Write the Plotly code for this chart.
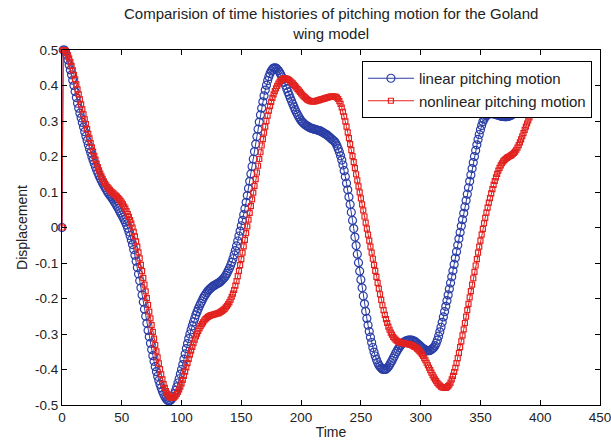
import plotly.graph_objects as go

# Sample times of the simulation (one sample per time unit)
time = list(range(0, 401))

# Pitching displacement, linear model
linear_pitch = [
    0, 0.5, 0.5, 0.495, 0.485, 0.472, 0.458, 0.444, 0.43, 0.415,
    0.40, 0.383, 0.366, 0.35, 0.336, 0.322, 0.309, 0.296, 0.283, 0.27,
    0.257, 0.245, 0.233, 0.222, 0.211, 0.2, 0.19, 0.18, 0.171, 0.162,
    0.154, 0.146, 0.139, 0.132, 0.125, 0.119, 0.113, 0.107, 0.101, 0.096,
    0.091, 0.087, 0.082, 0.077, 0.071, 0.066, 0.06, 0.054, 0.047, 0.041,
    0.035, 0.029, 0.022, 0.015, 0.007, -0.002, -0.012, -0.023, -0.035, -0.048,
    -0.062, -0.078, -0.095, -0.113, -0.131, -0.15, -0.17, -0.19, -0.21, -0.23,
    -0.25, -0.27, -0.29, -0.308, -0.326, -0.344, -0.361, -0.377, -0.392, -0.406,
    -0.419, -0.431, -0.442, -0.452, -0.461, -0.469, -0.476, -0.482, -0.486, -0.488,
    -0.488, -0.486, -0.482, -0.476, -0.468, -0.459, -0.449, -0.438, -0.426, -0.413,
    -0.4, -0.386, -0.371, -0.356, -0.341, -0.327, -0.313, -0.3, -0.288, -0.277,
    -0.266, -0.256, -0.246, -0.237, -0.229, -0.221, -0.214, -0.207, -0.2, -0.194,
    -0.189, -0.184, -0.179, -0.175, -0.172, -0.169, -0.166, -0.164, -0.162, -0.16,
    -0.158, -0.156, -0.154, -0.151, -0.148, -0.144, -0.14, -0.135, -0.129, -0.122,
    -0.115, -0.107, -0.098, -0.088, -0.077, -0.065, -0.052, -0.038, -0.024, -0.01,
    0.005, 0.02, 0.036, 0.053, 0.071, 0.09, 0.11, 0.13, 0.151, 0.172,
    0.193, 0.214, 0.235, 0.256, 0.277, 0.297, 0.317, 0.336, 0.354, 0.371,
    0.387, 0.401, 0.414, 0.425, 0.434, 0.441, 0.446, 0.449, 0.45, 0.449,
    0.446, 0.442, 0.437, 0.431, 0.424, 0.417, 0.409, 0.4, 0.391, 0.382,
    0.373, 0.364, 0.356, 0.348, 0.34, 0.332, 0.325, 0.318, 0.312, 0.306,
    0.301, 0.297, 0.294, 0.291, 0.288, 0.286, 0.284, 0.282, 0.28, 0.279,
    0.278, 0.277, 0.276, 0.275, 0.274, 0.273, 0.272, 0.27, 0.268, 0.266,
    0.264, 0.262, 0.26, 0.257, 0.254, 0.251, 0.248, 0.245, 0.242, 0.237,
    0.23, 0.222, 0.213, 0.202, 0.19, 0.176, 0.16, 0.143, 0.125, 0.106,
    0.086, 0.065, 0.043, 0.02, -0.003, -0.027, -0.051, -0.075, -0.099, -0.123,
    -0.147, -0.17, -0.193, -0.215, -0.236, -0.256, -0.275, -0.293, -0.309, -0.324,
    -0.338, -0.351, -0.362, -0.372, -0.38, -0.387, -0.392, -0.396, -0.399, -0.4,
    -0.4, -0.399, -0.396, -0.392, -0.387, -0.381, -0.375, -0.368, -0.362, -0.355,
    -0.349, -0.343, -0.338, -0.333, -0.329, -0.326, -0.323, -0.321, -0.319, -0.318,
    -0.317, -0.317, -0.317, -0.318, -0.319, -0.321, -0.323, -0.326, -0.329, -0.332,
    -0.335, -0.338, -0.341, -0.343, -0.345, -0.346, -0.347, -0.347, -0.346, -0.344,
    -0.341, -0.338, -0.333, -0.326, -0.317, -0.306, -0.294, -0.281, -0.267, -0.252,
    -0.237, -0.222, -0.206, -0.19, -0.173, -0.156, -0.139, -0.122, -0.104, -0.086,
    -0.068, -0.05, -0.032, -0.014, 0.004, 0.022, 0.04, 0.058, 0.076, 0.094,
    0.112, 0.13, 0.148, 0.166, 0.183, 0.2, 0.217, 0.233, 0.248, 0.262,
    0.275, 0.287, 0.298, 0.305, 0.311, 0.315, 0.318, 0.32, 0.321, 0.321,
    0.321, 0.32, 0.319, 0.318, 0.317, 0.316, 0.315, 0.314, 0.313, 0.313,
    0.312, 0.312, 0.312, 0.313, 0.314, 0.315, 0.317, 0.319, 0.322, 0.325,
    0.329, 0.333, 0.338, 0.343, 0.349, 0.355, 0.361, 0.367, 0.372, 0.377,
    0.382, 0.387, 0.392, 0.397, 0.402, 0.406, 0.41, 0.414, 0.418, 0.422,
    0.425,
]

# Pitching displacement, nonlinear model
nonlinear_pitch = [
    0, 0.5, 0.5, 0.497, 0.492, 0.485, 0.476, 0.466, 0.455, 0.443,
    0.43, 0.417, 0.403, 0.389, 0.375, 0.361, 0.347, 0.333, 0.319, 0.305,
    0.291, 0.277, 0.264, 0.251, 0.238, 0.226, 0.214, 0.202, 0.191, 0.18,
    0.17, 0.161, 0.152, 0.144, 0.137, 0.13, 0.124, 0.119, 0.114, 0.11,
    0.106, 0.102, 0.099, 0.096, 0.093, 0.09, 0.087, 0.083, 0.079, 0.075,
    0.07, 0.065, 0.059, 0.053, 0.046, 0.038, 0.03, 0.021, 0.011, 0.0,
    -0.012, -0.025, -0.039, -0.054, -0.07, -0.087, -0.105, -0.123, -0.142, -0.161,
    -0.18, -0.199, -0.218, -0.237, -0.256, -0.275, -0.294, -0.313, -0.331, -0.349,
    -0.366, -0.383, -0.399, -0.414, -0.428, -0.441, -0.452, -0.461, -0.468, -0.473,
    -0.477, -0.479, -0.48, -0.48, -0.478, -0.474, -0.469, -0.463, -0.456, -0.448,
    -0.439, -0.429, -0.418, -0.406, -0.394, -0.382, -0.37, -0.358, -0.347, -0.336,
    -0.326, -0.316, -0.307, -0.299, -0.291, -0.284, -0.278, -0.272, -0.267, -0.262,
    -0.258, -0.255, -0.252, -0.25, -0.248, -0.247, -0.246, -0.245, -0.244, -0.243,
    -0.242, -0.241, -0.239, -0.237, -0.235, -0.232, -0.229, -0.225, -0.221, -0.216,
    -0.21, -0.203, -0.195, -0.186, -0.176, -0.164, -0.151, -0.137, -0.122, -0.106,
    -0.089, -0.071, -0.053, -0.035, -0.016, 0.003, 0.022, 0.041, 0.06, 0.079,
    0.098, 0.117, 0.136, 0.155, 0.174, 0.193, 0.212, 0.231, 0.249, 0.267,
    0.284, 0.3, 0.315, 0.329, 0.342, 0.354, 0.365, 0.375, 0.384, 0.392,
    0.399, 0.405, 0.41, 0.414, 0.417, 0.419, 0.42, 0.42, 0.419, 0.417,
    0.415, 0.412, 0.409, 0.406, 0.402, 0.398, 0.394, 0.39, 0.386, 0.382,
    0.378, 0.374, 0.37, 0.367, 0.364, 0.361, 0.359, 0.357, 0.356, 0.355,
    0.355, 0.355, 0.356, 0.357, 0.358, 0.359, 0.36, 0.361, 0.362, 0.363,
    0.364, 0.365, 0.366, 0.367, 0.368, 0.369, 0.369, 0.369, 0.369, 0.368,
    0.366, 0.362, 0.356, 0.348, 0.338, 0.326, 0.313, 0.299, 0.284, 0.268,
    0.252, 0.235, 0.218, 0.201, 0.184, 0.167, 0.15, 0.133, 0.116, 0.099,
    0.082, 0.065, 0.048, 0.031, 0.014, -0.003, -0.02, -0.037, -0.054, -0.071,
    -0.088, -0.105, -0.122, -0.139, -0.156, -0.172, -0.188, -0.204, -0.219, -0.233,
    -0.246, -0.258, -0.269, -0.279, -0.288, -0.296, -0.302, -0.308, -0.312, -0.316,
    -0.319, -0.321, -0.323, -0.324, -0.325, -0.326, -0.327, -0.327, -0.328, -0.328,
    -0.329, -0.33, -0.331, -0.332, -0.334, -0.336, -0.338, -0.341, -0.344, -0.348,
    -0.352, -0.357, -0.362, -0.368, -0.374, -0.381, -0.388, -0.395, -0.402, -0.409,
    -0.416, -0.422, -0.428, -0.433, -0.438, -0.442, -0.445, -0.448, -0.45, -0.451,
    -0.452, -0.452, -0.45, -0.447, -0.443, -0.437, -0.428, -0.418, -0.407, -0.395,
    -0.382, -0.368, -0.353, -0.337, -0.321, -0.304, -0.287, -0.269, -0.251, -0.233,
    -0.215, -0.197, -0.179, -0.161, -0.143, -0.125, -0.107, -0.089, -0.071, -0.054,
    -0.037, -0.02, -0.004, 0.012, 0.027, 0.042, 0.056, 0.07, 0.083, 0.096,
    0.108, 0.12, 0.131, 0.141, 0.151, 0.16, 0.168, 0.175, 0.181, 0.186,
    0.19, 0.193, 0.196, 0.198, 0.2, 0.202, 0.204, 0.207, 0.21, 0.214,
    0.219, 0.225, 0.232, 0.24, 0.248, 0.257, 0.266, 0.275, 0.284, 0.293,
    0.302, 0.31, 0.318, 0.326, 0.333, 0.34, 0.347, 0.354, 0.361, 0.368,
    0.375,
]

x_ticks = [0, 50, 100, 150, 200, 250, 300, 350, 400, 450]
x_tick_labels = ["0", "50", "100", "150", "200", "250", "300", "350", "400", "450"]
y_ticks = [-0.5, -0.4, -0.3, -0.2, -0.1, 0, 0.1, 0.2, 0.3, 0.4, 0.5]
y_tick_labels = ["-0.5", "-0.4", "-0.3", "-0.2", "-0.1", "0", "0.1", "0.2", "0.3", "0.4", "0.5"]

title_lines = [
    "Comparision of time histories of pitching motion for the Goland",
    "wing model",
]

BLUE = "#2b3ea6"
RED = "#e3221f"
FONT = "Liberation Sans, Arial, sans-serif"
TEXT = "#222"

fig = go.Figure()
fig.add_trace(go.Scatter(
    x=time, y=linear_pitch, mode="lines+markers",
    name="linear pitching motion",
    line=dict(color=BLUE, width=1),
    marker=dict(symbol="circle-open", size=8, color=BLUE, line=dict(width=1.2, color=BLUE)),
    cliponaxis=False,
))
fig.add_trace(go.Scatter(
    x=time, y=nonlinear_pitch, mode="lines+markers",
    name="nonlinear pitching motion",
    line=dict(color=RED, width=1),
    marker=dict(symbol="square-open", size=5, color=RED, line=dict(width=1.2, color=RED)),
    cliponaxis=False,
))

axis_common = dict(
    showgrid=False, zeroline=False, showline=True, linecolor="#000", linewidth=1,
    mirror="ticks", ticks="inside", ticklen=5, tickcolor="#000",
    tickfont=dict(family=FONT, size=13.5, color=TEXT),
    automargin=False, ticklabeloverflow="allow",
)

fig.update_layout(
    width=611, height=448,
    margin=dict(l=62, r=11, t=50, b=43),
    paper_bgcolor="white", plot_bgcolor="white",
    font=dict(family=FONT, size=13, color=TEXT),
    xaxis=dict(range=[0, 450], tickvals=x_ticks, ticktext=x_tick_labels,
               title=dict(text="Time", standoff=2, font=dict(family=FONT, size=14, color=TEXT)),
               **axis_common),
    yaxis=dict(range=[-0.5, 0.5], tickvals=y_ticks, ticktext=y_tick_labels,
               title=dict(text="Displacement", standoff=4, font=dict(family=FONT, size=14, color=TEXT)),
               **axis_common),
    legend=dict(
        x=0.985, xanchor="right", y=0.969, yanchor="top",
        bgcolor="white", bordercolor="#000", borderwidth=1,
        font=dict(family=FONT, size=15, color=TEXT),
        itemwidth=46, tracegroupgap=0,
    ),
    showlegend=True,
    annotations=[
        dict(text="<br>".join(title_lines), xref="paper", yref="paper",
             x=0.5, y=1, xanchor="center", yanchor="bottom", yshift=6,
             showarrow=False, align="center",
             font=dict(family=FONT, size=15, color=TEXT)),
    ],
)

fig.write_html("out.html")
